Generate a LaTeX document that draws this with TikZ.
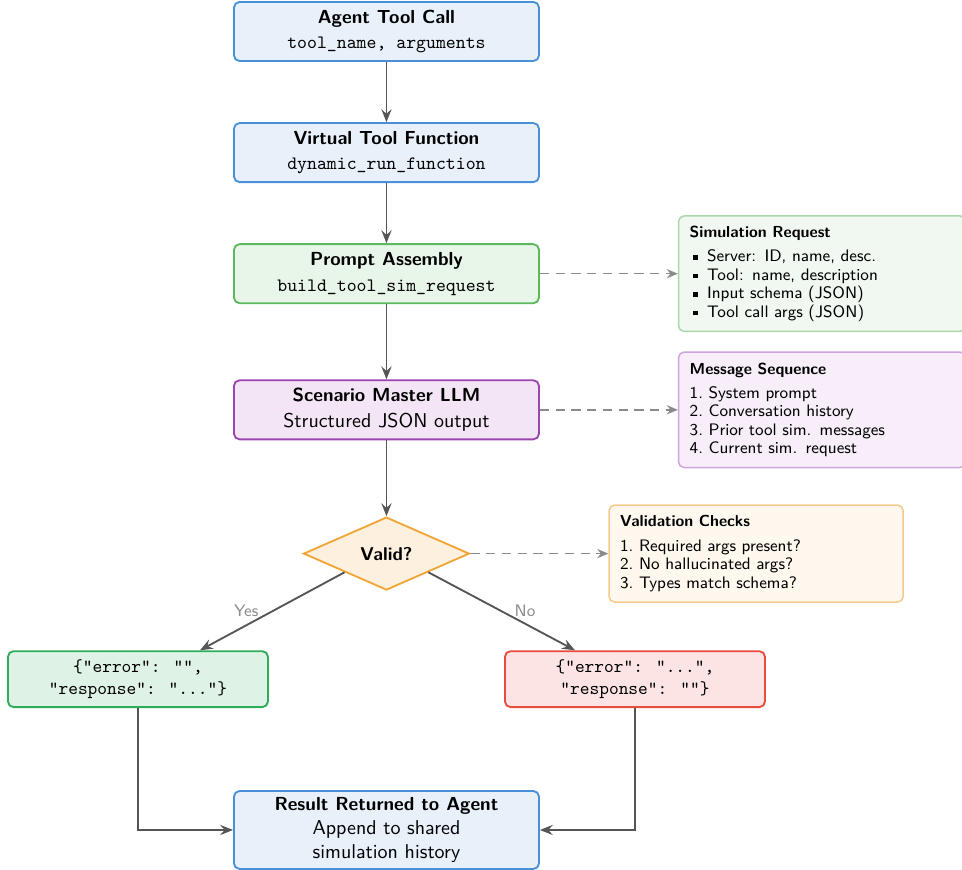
\documentclass[tikz,border=0pt]{standalone}
\usetikzlibrary{positioning, arrows.meta, shapes.geometric}
\definecolor{blueFill}{HTML}{E8F0FA}
\definecolor{blueLine}{HTML}{4A90D9}
\definecolor{asmFill}{HTML}{E8F5E9}
\definecolor{asmLine}{HTML}{5CB85C}
\definecolor{llmFill}{HTML}{F3E5F5}
\definecolor{llmLine}{HTML}{9B45B0}
\definecolor{decFill}{HTML}{FDF0DE}
\definecolor{decLine}{HTML}{F0A637}
\definecolor{okFill}{HTML}{DFF2E6}
\definecolor{okLine}{HTML}{2EAD5C}
\definecolor{errFill}{HTML}{FCE4E4}
\definecolor{errLine}{HTML}{E74C3C}
\definecolor{simFill}{HTML}{F1F8F1}
\definecolor{simLine}{HTML}{A8D8A8}
\definecolor{msgFill}{HTML}{F7EEF9}
\definecolor{msgLine}{HTML}{CFA3DB}
\definecolor{chkFill}{HTML}{FFF8EF}
\definecolor{chkLine}{HTML}{F5C98A}
\definecolor{arrowGray}{HTML}{555555}
\definecolor{dashGray}{HTML}{8A8A8A}
\newcommand{\sqitem}{\hspace*{2pt}\rule[0.25ex]{2.4pt}{2.4pt}\hspace{5pt}}
\newcommand{\boxtitle}[1]{{\fontsize{10.2}{12}\selectfont\bfseries #1}}
\newcommand{\notetitle}[1]{{\fontsize{8.6}{10}\selectfont\bfseries #1}}
\newcommand{\code}[1]{{\fontsize{10.2}{12}\selectfont\ttfamily #1}}
\tikzset{
  block/.style={
    draw=blueLine,
    fill=blueFill,
    rectangle,
    rounded corners=3pt,
    line width=1pt,
    minimum width=164.7pt,
    minimum height=31.9pt,
    align=center,
    inner sep=2pt,
    font=\sffamily\fontsize{10.8}{13}\selectfont
  },
  asmbox/.style={block, draw=asmLine, fill=asmFill},
  llmbox/.style={block, draw=llmLine, fill=llmFill},
  decision/.style={
    draw=decLine,
    fill=decFill,
    diamond,
    aspect=2.27,
    line width=1pt,
    minimum width=89.6pt,
    minimum height=39.4pt,
    inner sep=0pt,
    font=\sffamily\bfseries
  },
  outbox/.style={
    rectangle,
    rounded corners=3pt,
    line width=1pt,
    minimum width=140.4pt,
    minimum height=30.2pt,
    align=center,
    inner sep=2pt,
    font=\ttfamily
  },
  okbox/.style={outbox, draw=okLine, fill=okFill},
  errbox/.style={outbox, draw=errLine, fill=errFill},
  note/.style={
    rectangle,
    rounded corners=3pt,
    line width=0.8pt,
    text width=143pt,
    minimum height=62.4pt,
    inner xsep=6pt,
    inner ysep=4pt,
    align=left,
    font=\sffamily\fontsize{9}{10}\selectfont
  },
  flow/.style={
    draw=arrowGray,
    line width=1pt,
    -{Stealth[length=7pt, width=5.5pt, inset=2.5pt]}
  },
  dashflow/.style={
    draw=dashGray,
    line width=0.8pt,
    dash pattern=on 5pt off 3.5pt,
    -{Stealth[length=6pt, width=5pt, inset=2pt]}
  },
  branch/.style={
    text=dashGray,
    inner sep=1pt,
    font=\sffamily\small
  }
}

\begin{document}
\begin{tikzpicture}
        \useasboundingbox (-208.7pt,17pt) rectangle (310.8pt,-452.3pt);
        \node[block] (call) at (0,0) {\boxtitle{Agent Tool Call}\\[1pt]\code{tool\_name, arguments}};
        \node[block, below=32.5pt of call] (virt) {\boxtitle{Virtual Tool Function}\\[1pt]\code{dynamic\_run\_function}};
        \node[asmbox, below=32.5pt of virt] (prompt) {\boxtitle{Prompt Assembly}\\[1pt]\code{build\_tool\_sim\_request}};
        \node[llmbox, below=40.6pt of prompt] (llm) {\boxtitle{Scenario Master LLM}\\[1pt]Structured JSON output};
        \node[decision, below=41pt of llm] (valid) {Valid?};
        \node[okbox, below=32pt of valid, xshift=-134.2pt] (ok) {\{"error": "",\\"response": "..."\}};
        \node[errbox, below=32pt of valid, xshift=134.2pt] (err) {\{"error": "...",\\"response": ""\}};
        \node[block, below=107.5pt of valid, minimum height=42.1pt] (result) {\boxtitle{Result Returned to Agent}\\Append to shared\\simulation history};

        \node[note, draw=simLine, fill=simFill, right=74.5pt of prompt] (simreq) {\notetitle{Simulation Request}\\[3pt]
          \sqitem Server: ID, name, desc.\\
          \sqitem Tool: name, description\\
          \sqitem Input schema (JSON)\\
          \sqitem Tool call args (JSON)};
        \node[note, draw=msgLine, fill=msgFill, right=74.5pt of llm] (msgseq) {\notetitle{Message Sequence}\\[3pt]
          1.\ System prompt\\
          2.\ Conversation history\\
          3.\ Prior tool sim. messages\\
          4.\ Current sim. request};
        \node[note, draw=chkLine, fill=chkFill, right=74.5pt of valid, text width=146.8pt, minimum height=52.4pt] (checks) {\notetitle{Validation Checks}\\[3pt]
          1.\ Required args present?\\
          2.\ No hallucinated args?\\
          3.\ Types match schema?};

        \draw[flow] (call) -- (virt);
        \draw[flow] (virt) -- (prompt);
        \draw[flow] (prompt) -- (llm);
        \draw[flow] (llm) -- (valid);
        \draw[flow] (valid.south west) -- ([xshift=33.5pt]ok.north) node[branch, midway, left=6pt] {Yes};
        \draw[flow] (valid.south east) -- ([xshift=-32.4pt]err.north) node[branch, midway, right=5.5pt] {No};
        \draw[flow] (ok.south) |- (result.west);
        \draw[flow] (err.south) |- (result.east);

        \draw[dashflow] (prompt) -- (simreq);
        \draw[dashflow] (llm) -- (msgseq);
        \draw[dashflow] (valid) -- (checks);
      \end{tikzpicture}
\end{document}
